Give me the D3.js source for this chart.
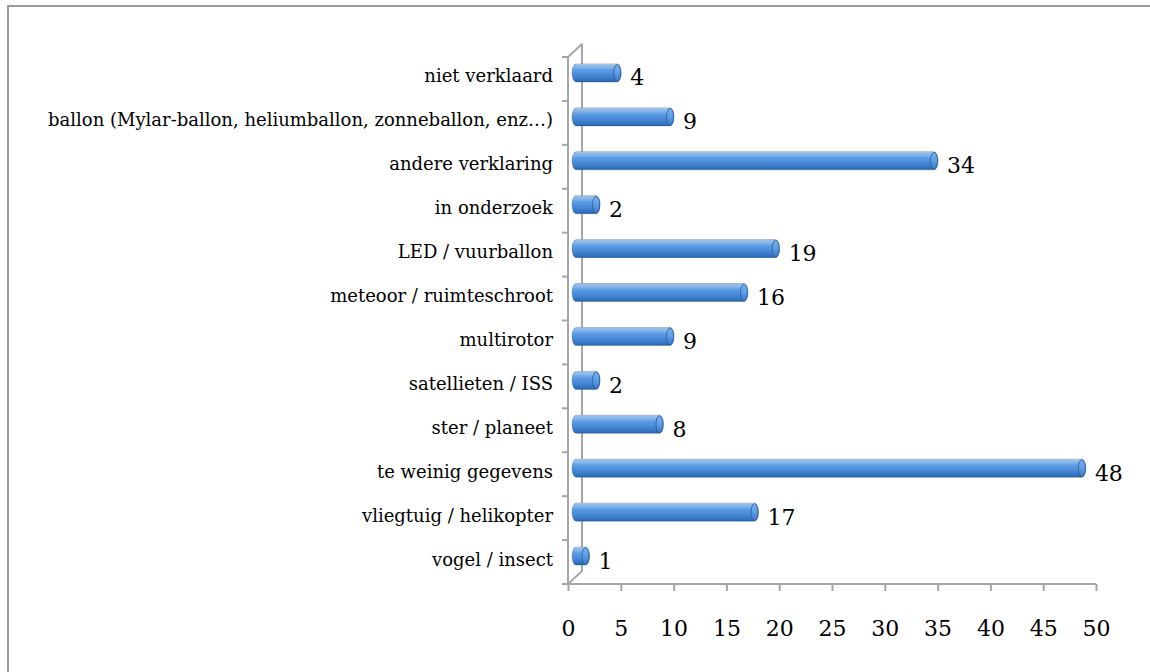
<!DOCTYPE html>
<html>
<head>
<meta charset="utf-8">
<script src="https://cdn.jsdelivr.net/npm/d3@7/dist/d3.min.js"></script>
<style>
  html, body { margin: 0; padding: 0; background: #fff; }
  svg { display: block; }
</style>
</head>
<body>
<svg id="chart" width="1150" height="672"></svg>
<script>
const categories = [
  "niet verklaard",
  "ballon (Mylar-ballon, heliumballon, zonneballon, enz…)",
  "andere verklaring",
  "in onderzoek",
  "LED / vuurballon",
  "meteoor / ruimteschroot",
  "multirotor",
  "satellieten / ISS",
  "ster / planeet",
  "te weinig gegevens",
  "vliegtuig / helikopter",
  "vogel / insect"
];
const values = [4, 9, 34, 2, 19, 16, 9, 2, 8, 48, 17, 1];
const xTicks = [0, 5, 10, 15, 20, 25, 30, 35, 40, 45, 50];

const svg = d3.select("#chart");
const FONT = "'DejaVu Serif', 'Liberation Serif', serif";
const axisColor = "#a6a6a6";

// chart border (only top and left visible)
svg.append("rect")
  .attr("x", 8).attr("y", 6).attr("width", 1160).attr("height", 700)
  .attr("fill", "none").attr("stroke", "#9a9a9a").attr("stroke-width", 2);

const x = d3.scaleLinear().domain([0, 50]).range([568, 1096]);
const y = d3.scaleBand().domain(categories).range([57, 584]).padding(0);

const dx = 14, dy = -13; // 3D depth offset
const barH = 18;

// gradient
const defs = svg.append("defs");
const g1 = defs.append("linearGradient").attr("id", "cyl").attr("x1", 0).attr("y1", 0).attr("x2", 0).attr("y2", 1);
[[0, "#7fb0ea"], [0.12, "#8fbdf2"], [0.35, "#5c9be3"], [0.7, "#4284d2"], [0.9, "#3270bb"], [1, "#2a5f9f"]]
  .forEach(([o, c]) => g1.append("stop").attr("offset", o).attr("stop-color", c));
const g2 = defs.append("linearGradient").attr("id", "cap").attr("x1", 0).attr("y1", 0).attr("x2", 0).attr("y2", 1);
[[0, "#7ab0ee"], [0.5, "#5d9de6"], [1, "#3d78c2"]]
  .forEach(([o, c]) => g2.append("stop").attr("offset", o).attr("stop-color", c));

// axes lines (3D frame)
const frame = svg.append("g").attr("stroke", axisColor).attr("stroke-width", 2).attr("fill", "none");
const x0 = x(0), yTop = y.range()[0], yBot = y.range()[1];
frame.append("line").attr("x1", x0).attr("y1", yTop).attr("x2", x0).attr("y2", yBot);
frame.append("line").attr("x1", x0 + dx).attr("y1", yTop + dy).attr("x2", x0 + dx).attr("y2", yBot + dy);
frame.append("line").attr("x1", x0).attr("y1", yTop).attr("x2", x0 + dx).attr("y2", yTop + dy);
frame.append("line").attr("x1", x0).attr("y1", yBot).attr("x2", x0 + dx).attr("y2", yBot + dy);

// category boundary ticks
const bounds = categories.map(c => y(c)).concat([yBot]);
frame.selectAll("line.ytick").data(bounds).join("line")
  .attr("class", "ytick")
  .attr("x1", x0 - 6).attr("x2", x0).attr("y1", d => d).attr("y2", d => d);

// x axis
const xAxis = d3.axisBottom(x).tickValues(xTicks).tickSize(7).tickPadding(29).tickSizeOuter(0);
const xg = svg.append("g").attr("transform", `translate(0,${yBot})`).call(xAxis);
xg.select(".domain").attr("stroke", axisColor).attr("stroke-width", 2).attr("d", `M${x0 - 6},0H${x(50)}`);
xg.selectAll(".tick line").attr("stroke", axisColor).attr("stroke-width", 2);
xg.selectAll(".tick text").attr("font-family", FONT).attr("font-size", 22).attr("fill", "#000");

const barCenter = c => y(c) + y.bandwidth() / 2 - 6;

// category labels
svg.append("g").selectAll("text").data(categories).join("text")
  .attr("x", 553)
  .attr("y", d => barCenter(d) + 3)
  .attr("text-anchor", "end")
  .attr("dominant-baseline", "central")
  .attr("font-family", FONT).attr("font-size", 18)
  .text(d => d);

// bars
const data = categories.map((c, i) => ({ c, v: values[i] }));
const bars = svg.append("g");
const rx = 4;
data.forEach(d => {
  const cy = barCenter(d.c);
  const xs = x0 + 4;
  const xe = x(d.v) + dx / 2;
  const top = cy - barH / 2, bot = cy + barH / 2;
  const path = `M${xs + rx},${top} L${xe},${top} A${rx},${barH / 2} 0 0 1 ${xe},${bot} L${xs + rx},${bot} A${rx},${barH / 2} 0 0 1 ${xs + rx},${top} Z`;
  bars.append("path").attr("d", path).attr("fill", "url(#cyl)")
    .attr("stroke", "#2c5f9e").attr("stroke-width", 0.6).attr("stroke-opacity", 0.6);
  bars.append("line").attr("x1", xs + rx).attr("x2", xe).attr("y1", top + 0.5).attr("y2", top + 0.5)
    .attr("stroke", "#b8c4d2").attr("stroke-width", 1);
  bars.append("ellipse").attr("cx", xe).attr("cy", cy).attr("rx", rx - 0.5).attr("ry", barH / 2 - 0.5)
    .attr("fill", "url(#cap)").attr("stroke", "#2a5a96").attr("stroke-width", 0.8);
});

// value labels
svg.append("g").selectAll("text").data(data).join("text")
  .attr("x", d => x(d.v) + dx / 2 + 13)
  .attr("y", d => barCenter(d.c) + 5)
  .attr("dominant-baseline", "central")
  .attr("font-family", FONT).attr("font-size", 22)
  .text(d => d.v);
</script>
</body>
</html>
